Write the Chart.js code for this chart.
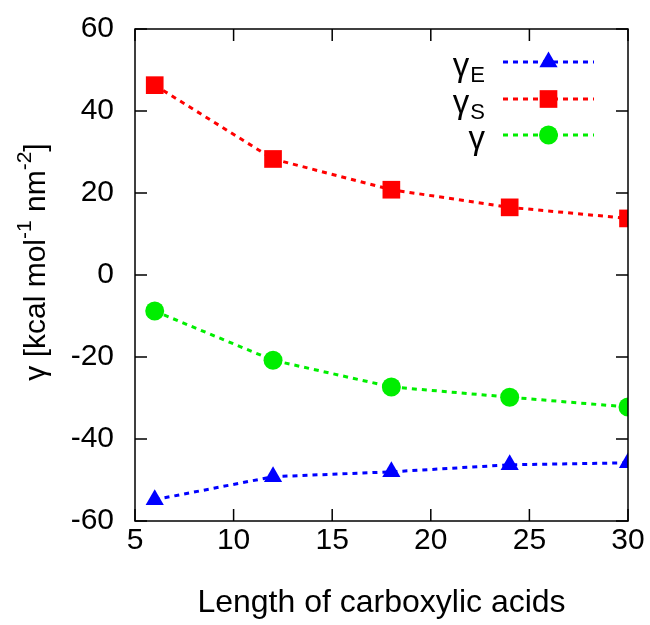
<!DOCTYPE html>
<html>
<head>
<meta charset="utf-8">
<script src="https://cdn.jsdelivr.net/npm/chart.js@4"></script>
<style>
    html, body { margin: 0; padding: 0; background: #fff; }
    #chart { display: block; }
</style>
</head>
<body>
<canvas id="chart" width="650" height="625"></canvas>
<script>
// chain length of the acids
const lengths = [6, 12, 18, 24, 30];
// surface energy terms (kcal mol-1 nm-2)
const gammaE = [-54.8, -49.2, -48.0, -46.3, -45.8];
const gammaS = [46.3, 28.3, 20.8, 16.5, 13.8];
const gammaTotal = [-8.8, -20.8, -27.3, -29.8, -32.2];

const xTicks = [5, 10, 15, 20, 25, 30];
const yTicks = [-60, -40, -20, 0, 20, 40, 60];

const legendBase = ['γ', 'γ', 'γ'];
const legendSub = ['E', 'S', ''];

// y title pieces: [text, superscript?]
const yTitleParts = [['γ [kcal mol', false], ['-1', true], [' nm', false], ['-2', true], [']', false]];

const FONT = 'Liberation Sans, Arial, sans-serif';

function toPoints(ys) {
    return lengths.map((x, i) => ({ x: x, y: ys[i] }));
}

function series(label, ys, color, shape, radius) {
    return {
        label: label,
        data: toPoints(ys),
        borderColor: color,
        backgroundColor: color,
        borderWidth: 3,
        borderDash: [5, 5],
        pointStyle: shape,
        pointRadius: radius,
        pointHoverRadius: radius,
        pointBorderWidth: 0,
        tension: 0
    };
}

// gnuplot style frame: box with inward ticks on all four sides
const framePlugin = {
    id: 'frame',
    afterDraw(chart) {
        const ctx = chart.ctx;
        const a = chart.chartArea;
        const xs = chart.scales.x, ys = chart.scales.y;
        const tl = 12;
        ctx.save();
        ctx.strokeStyle = '#000';
        ctx.lineWidth = 1.5;
        ctx.strokeRect(a.left, a.top, a.right - a.left, a.bottom - a.top);
        ctx.beginPath();
        xTicks.forEach(v => {
            const px = xs.getPixelForValue(v);
            ctx.moveTo(px, a.bottom); ctx.lineTo(px, a.bottom - tl);
            ctx.moveTo(px, a.top); ctx.lineTo(px, a.top + tl);
        });
        yTicks.forEach(v => {
            const py = ys.getPixelForValue(v);
            ctx.moveTo(a.left, py); ctx.lineTo(a.left + tl, py);
            ctx.moveTo(a.right, py); ctx.lineTo(a.right - tl, py);
        });
        ctx.stroke();

        // rotated y title with real superscripts
        ctx.save();
        ctx.translate(45, 262);
        ctx.rotate(-Math.PI / 2);
        ctx.fillStyle = '#000';
        ctx.textAlign = 'left';
        ctx.textBaseline = 'alphabetic';
        const mainFont = '30px ' + FONT, supFont = '21px ' + FONT;
        let total = 0;
        yTitleParts.forEach(([t, sup]) => {
            ctx.font = sup ? supFont : mainFont;
            total += ctx.measureText(t).width;
        });
        let x = -total / 2;
        yTitleParts.forEach(([t, sup]) => {
            ctx.font = sup ? supFont : mainFont;
            ctx.fillText(t, x, sup ? -14 : 0);
            x += ctx.measureText(t).width;
        });
        ctx.restore();
        ctx.restore();
    }
};

// legend: text on the left, line sample with marker on the right
const keyPlugin = {
    id: 'key',
    afterDraw(chart) {
        const ctx = chart.ctx;
        const textRight = 485;
        const lineL = 503, lineR = 594;
        const rows = [62, 99, 135];
        ctx.save();
        chart.data.datasets.forEach((ds, i) => {
            const y = rows[i];
            ctx.fillStyle = '#000';
            ctx.textBaseline = 'alphabetic';
            ctx.textAlign = 'right';
            let x = textRight;
            if (legendSub[i]) {
                ctx.font = '22px ' + FONT;
                ctx.fillText(legendSub[i], x, y + 20);
                x -= ctx.measureText(legendSub[i]).width + 1;
            }
            ctx.font = '33px ' + FONT;
            ctx.fillText(legendBase[i], x, y + 14);
            // sample line
            ctx.strokeStyle = ds.borderColor;
            ctx.lineWidth = ds.borderWidth;
            ctx.setLineDash(ds.borderDash);
            ctx.beginPath();
            ctx.moveTo(lineL, y);
            ctx.lineTo(lineR, y);
            ctx.stroke();
            ctx.setLineDash([]);
            ctx.fillStyle = ds.backgroundColor;
            Chart.helpers.drawPoint(ctx, {
                pointStyle: ds.pointStyle,
                radius: ds.pointRadius,
                borderWidth: 0,
                rotation: 0
            }, (lineL + lineR) / 2, y);
        });
        ctx.restore();
    }
};

new Chart(document.getElementById('chart'), {
    type: 'line',
    data: {
        datasets: [
            series('γE', gammaE, '#0000ff', 'triangle', 10.5),
            series('γS', gammaS, '#ff0000', 'rect', 12.5),
            series('γ', gammaTotal, '#00ee00', 'circle', 9.5)
        ]
    },
    options: {
        responsive: false,
        animation: false,
        layout: { padding: { top: 29, right: 22, left: 0, bottom: 0 } },
        plugins: {
            legend: { display: false },
            tooltip: { enabled: false }
        },
        scales: {
            x: {
                type: 'linear',
                min: 5,
                max: 30,
                afterBuildTicks: (s) => { s.ticks = xTicks.map(v => ({ value: v })); },
                afterFit: (s) => { s.height = 104; },
                grid: { drawOnChartArea: false, drawTicks: true, tickLength: 2, color: 'rgba(0,0,0,0)' },
                border: { display: false },
                ticks: {
                    padding: 0,
                    color: '#000',
                    font: { family: FONT, size: 30 }
                },
                title: {
                    display: true,
                    text: 'Length of carboxylic acids',
                    color: '#000',
                    font: { family: FONT, size: 32 },
                    padding: { top: 0, bottom: 3 }
                }
            },
            y: {
                min: -60,
                max: 60,
                afterBuildTicks: (s) => { s.ticks = yTicks.map(v => ({ value: v })); },
                afterFit: (s) => { s.width = 135; },
                grid: { drawOnChartArea: false, drawTicks: true, tickLength: 21, color: 'rgba(0,0,0,0)' },
                border: { display: false },
                ticks: {
                    padding: 0,
                    color: '#000',
                    font: { family: FONT, size: 30 }
                },
                title: { display: false }
            }
        }
    },
    plugins: [framePlugin, keyPlugin]
});
</script>
</body>
</html>
